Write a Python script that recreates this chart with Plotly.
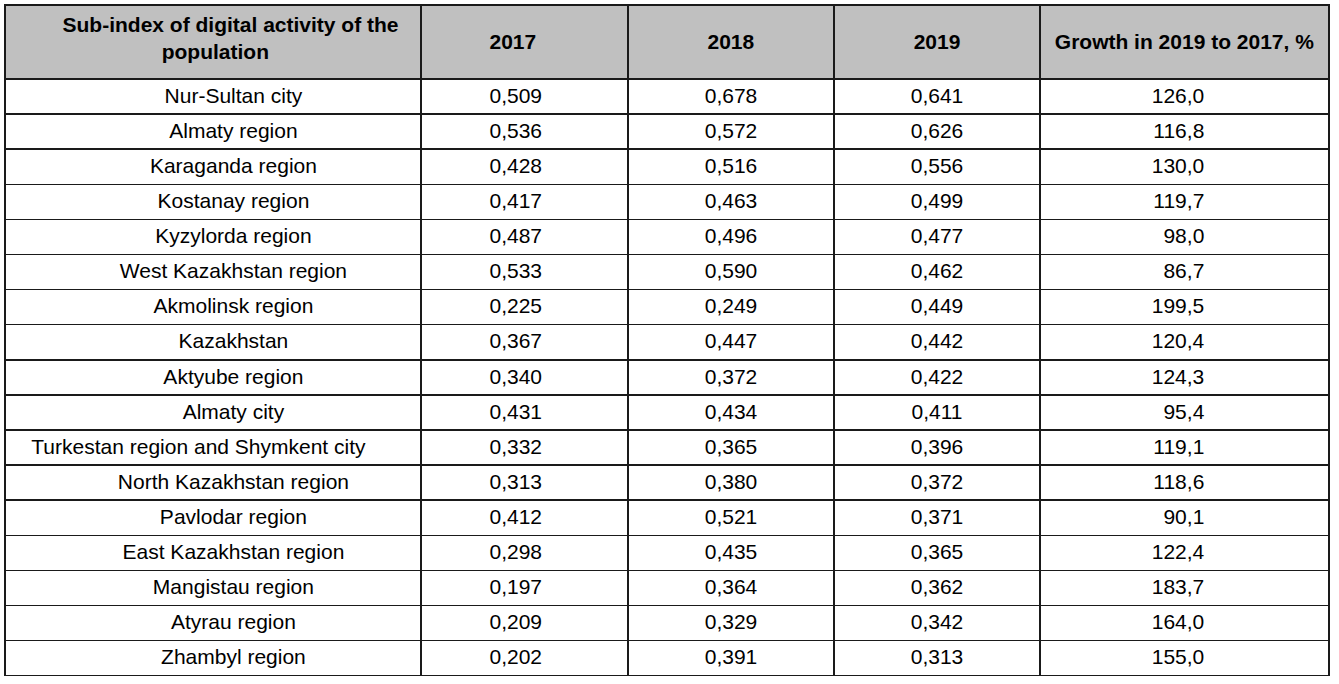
import plotly.graph_objects as go

regions = ["Nur-Sultan city", "Almaty region", "Karaganda region", "Kostanay region",
           "Kyzylorda region", "West Kazakhstan region", "Akmolinsk region", "Kazakhstan",
           "Aktyube region", "Almaty city", "Turkestan region and Shymkent city",
           "North Kazakhstan region", "Pavlodar region", "East Kazakhstan region",
           "Mangistau region", "Atyrau region", "Zhambyl region"]
v2017 = ["0,509", "0,536", "0,428", "0,417", "0,487", "0,533", "0,225", "0,367", "0,340",
         "0,431", "0,332", "0,313", "0,412", "0,298", "0,197", "0,209", "0,202"]
v2018 = ["0,678", "0,572", "0,516", "0,463", "0,496", "0,590", "0,249", "0,447", "0,372",
         "0,434", "0,365", "0,380", "0,521", "0,435", "0,364", "0,329", "0,391"]
v2019 = ["0,641", "0,626", "0,556", "0,499", "0,477", "0,462", "0,449", "0,442", "0,422",
         "0,411", "0,396", "0,372", "0,371", "0,365", "0,362", "0,342", "0,313"]
growth = ["126,0", "116,8", "130,0", "119,7", "98,0", "86,7", "199,5", "120,4", "124,3",
          "95,4", "119,1", "118,6", "90,1", "122,4", "183,7", "164,0", "155,0"]
header_line1 = "Sub-index of digital activity of the"
header_line2 = "population"
year_headers = ["2017", "2018", "2019"]
growth_header = "Growth in 2019 to 2017, %"

NB = "\u00a0"


def pad(s, lead=0, trail=0):
    return NB * lead + s + NB * trail


# spacing only, to mimic the original cell text placement
col0 = [pad(r, 0, 5) if len(r) > 30 else pad(r, 7, 0) for r in regions]
col1 = [pad(v, 0, 3) for v in v2017]
col4 = [pad(v, 0, 20) for v in growth]

# a small spacer line pushes single-line headers to the vertical middle
SPACER = "<span style='font-size:10px'>" + NB + "</span><br>"
headers = [
    "<b>" + pad(header_line1, 6) + "<br>" + pad(header_line2, 23) + "</b>",
    SPACER + "<b>" + pad(year_headers[0], 0, 4) + "</b>",
    SPACER + "<b>" + year_headers[1] + "</b>",
    SPACER + "<b>" + year_headers[2] + "</b>",
    SPACER + "<b>" + growth_header + "</b>",
]

W, H = 1339, 684
FONT = "Liberation Sans, Arial"
fig = go.Figure(go.Table(
    domain=dict(x=[5 / W, 1329 / W], y=[0, 1 - 5 / H]),
    columnwidth=[416, 207, 206, 206, 289],
    header=dict(values=headers, fill_color="#c0c0c0",
                line=dict(color="#1a1a1a", width=1.5),
                font=dict(family=FONT, size=21, color="black"),
                align="center", height=74),
    cells=dict(values=[col0, col1, v2018, v2019, col4], fill_color="white",
               line=dict(color="#1a1a1a", width=1.5),
               font=dict(family=FONT, size=21, color="black"),
               align=["center", "center", "center", "center", "right"], height=35.1),
))
fig.update_layout(width=W, height=H, margin=dict(l=0, r=0, t=0, b=0),
                  paper_bgcolor="white", plot_bgcolor="white")
fig.write_html("out.html", config={"displayModeBar": False},
               post_script="document.body.style.margin='0';")
